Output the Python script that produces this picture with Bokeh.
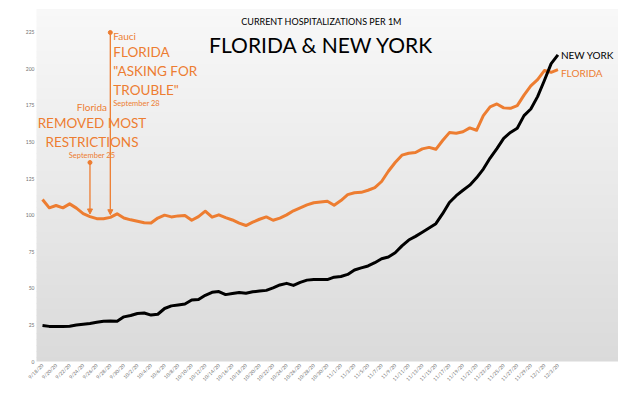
from math import pi
from bokeh.plotting import figure
from bokeh.models import Range1d, FixedTicker, BoxAnnotation, Label, Arrow, NormalHead
from bokeh.embed import file_html
from bokeh.resources import INLINE

# ---------------- data ----------------
tick_labels = ["9/18/20", "9/20/20", "9/22/20", "9/24/20", "9/26/20", "9/28/20", "9/30/20",
               "10/2/20", "10/4/20", "10/6/20", "10/8/20", "10/10/20", "10/12/20", "10/14/20",
               "10/16/20", "10/18/20", "10/20/20", "10/22/20", "10/24/20", "10/26/20", "10/28/20",
               "10/30/20", "11/1/20", "11/3/20", "11/5/20", "11/7/20", "11/9/20", "11/11/20",
               "11/13/20", "11/15/20", "11/17/20", "11/19/20", "11/21/20", "11/23/20", "11/25/20",
               "11/27/20", "11/29/20", "12/1/20", "12/3/20"]

florida = [110.7, 105, 106.6, 105, 107.7, 104.8, 101, 99, 97.6, 97.5,
           98.5, 100.9, 98, 96.8, 95.8, 94.8, 94.6, 98, 100, 98.8,
           99.5, 99.7, 96.5, 99, 102.7, 98.6, 100.2, 98.3, 96.7, 94.5,
           92.9, 95.2, 97.2, 98.8, 96.5, 98, 100.2, 103, 105, 107,
           108.5, 109, 109.5, 106.8, 110, 114, 115.3, 115.6, 117, 118.8,
           123, 130, 136, 141, 142.3, 142.8, 145.3, 146.3, 145, 151,
           156.4, 156, 157, 159.6, 158, 168, 174, 176, 173.3, 173,
           174.8, 182, 188.3, 192.6, 198.8, 197.6, 199.4]

new_york = [24.6, 24, 23.9, 23.9, 24.1, 24.9, 25.4, 26, 26.8, 27.5,
            27.7, 27.5, 30.5, 31.4, 32.8, 33.1, 31.7, 32.3, 36.2, 38,
            38.6, 39.3, 42, 42.3, 45.2, 47.3, 47.8, 45.7, 46.4, 47.2,
            46.7, 47.6, 48.1, 48.6, 50.3, 52.3, 53.4, 52, 54.1, 55.6,
            56, 56, 56, 57.6, 58.1, 59.5, 62.5, 64, 65.3, 67.5,
            70.2, 71.4, 74.3, 79, 83, 85.5, 88.3, 91.2, 94.2, 101,
            108.6, 113.3, 117, 120.5, 125.5, 131.5, 139, 145.5, 152.5, 156.5,
            159.4, 168, 172.5, 181, 192, 203.5, 209.5]

y_ticks = [0, 25, 50, 75, 100, 125, 150, 175, 200, 225]
event_days = [7, 10]          # 9/25/20 and 9/28/20 (days after 9/18/20)

day = list(range(len(florida)))
tick_days = [2 * i for i in range(len(tick_labels))]

# ---------------- layout helpers ----------------
ORANGE = "#ED7D31"
FONT = "Lato"
W, H = 618, 403
PX_DAY = 6.782
PX_UNIT = 1.4635


def dx(page_x):
    return (page_x - 42) / PX_DAY


def dy(page_y):
    return (361 - page_y) / PX_UNIT


p = figure(width=W, height=H, output_backend="svg", toolbar_location=None,
           x_range=Range1d(dx(36), dx(618)), y_range=Range1d(dy(361), dy(9)),
           min_border_left=36, min_border_right=0, min_border_top=9, min_border_bottom=42,
           background_fill_color="white", border_fill_color="white")
p.outline_line_color = None
p.grid.visible = False

# gradient background (chart area)
def mix(c1, c2, t):
    return "#%02x%02x%02x" % tuple(int(round(a + (b - a) * t)) for a, b in zip(c1, c2))

top_c, mid_c, bot_c = (248, 248, 248), (217, 217, 217), (223, 223, 223)
y = 9
while y < 404:
    y2 = y + 6
    if y < 372:
        c = mix(top_c, mid_c, (y - 9) / (372 - 9))
    else:
        c = mix(mid_c, bot_c, (y - 372) / 31)
    p.add_layout(BoxAnnotation(left=dx(22), right=dx(640), top=dy(y), bottom=dy(y2 + 0.5),
                               fill_color=c, fill_alpha=1, line_alpha=0, level="underlay"))
    y = y2
p.add_layout(BoxAnnotation(left=dx(22), right=dx(640), top=dy(9), bottom=dy(420),
                           fill_alpha=0, line_color="#d4d4d4", line_width=1, level="underlay"))
# left black rule
p.add_layout(BoxAnnotation(left=dx(6), right=dx(9), top=dy(-20), bottom=dy(430),
                           fill_color="black", fill_alpha=1, line_alpha=0, level="underlay"))

# ---------------- lines ----------------
p.line(day, florida, line_color=ORANGE, line_width=3, line_join="round")
p.line(day, new_york, line_color="black", line_width=3, line_join="round")

# ---------------- axes ----------------
p.xaxis.ticker = FixedTicker(ticks=tick_days)
p.xaxis.major_label_overrides = {d: lab for d, lab in zip(tick_days, tick_labels)}
p.xaxis.major_label_orientation = pi / 4
p.yaxis.ticker = FixedTicker(ticks=y_ticks)
for ax in (p.xaxis, p.yaxis):
    ax.axis_line_color = None
    ax.major_tick_line_color = None
    ax.minor_tick_line_color = None
    ax.major_tick_out = 0
    ax.major_label_text_font = FONT
    ax.major_label_text_font_size = "5px"
    ax.major_label_text_color = "#707070"
p.xaxis.major_label_standoff = 3
p.yaxis.major_label_standoff = 2

# ---------------- annotations ----------------
def lab(text, x, y, size, color, align="left", x_off=0, style="normal"):
    p.add_layout(Label(x=x, y=y, text=text, x_offset=x_off, text_font=FONT,
                       text_font_size=f"{size}px", text_color=color, text_align=align,
                       text_baseline="middle", text_font_style=style))

# titles
lab("CURRENT HOSPITALIZATIONS PER 1M", dx(321), dy(21), 9, "black", "center")
lab("FLORIDA & NEW YORK", dx(321), dy(44), 21, "black", "center")

# event arrows
tops = [dy(162), dy(32)]
for d, t in zip(event_days, tops):
    p.add_layout(Arrow(x_start=d, y_start=t, x_end=d, y_end=florida[d] + 1.8,
                       line_color=ORANGE, line_width=1.3,
                       end=NormalHead(size=5, fill_color=ORANGE, line_color=ORANGE)))
p.scatter(event_days, tops, size=4, color=ORANGE, level="overlay")

# Fauci block (left aligned after the 9/28 line)
d2 = event_days[1]
lab("Fauci", d2, dy(35), 10, ORANGE, x_off=3)
lab("FLORIDA", d2, dy(51), 13.5, ORANGE, x_off=3)
lab("\"ASKING FOR", d2, dy(70), 13.5, ORANGE, x_off=3)
lab("TROUBLE\"", d2, dy(89), 13.5, ORANGE, x_off=3)
lab("September 28", d2, dy(103), 7.5, ORANGE, x_off=3)

# Florida restrictions block (centred on the 9/25 line)
d1 = event_days[0]
lab("Florida", d1, dy(106), 10, ORANGE, "center", x_off=2)
lab("REMOVED MOST", d1, dy(122), 13.5, ORANGE, "center", x_off=2)
lab("RESTRICTIONS", d1, dy(141), 13.5, ORANGE, "center", x_off=2)
lab("September 25", d1, dy(155), 7.5, ORANGE, "center", x_off=2)

# series end labels
last = day[-1]
lab("NEW YORK", last, new_york[-1], 10, "black", x_off=3)
lab("FLORIDA", last, florida[-1] - 2, 10, ORANGE, x_off=3)

# source
lab("Source: Covid Tracking Project  /  @iannSC", dx(322), dy(398), 5, "#7a7a7a", "center")

open("out.html", "w").write(file_html(p, INLINE))
